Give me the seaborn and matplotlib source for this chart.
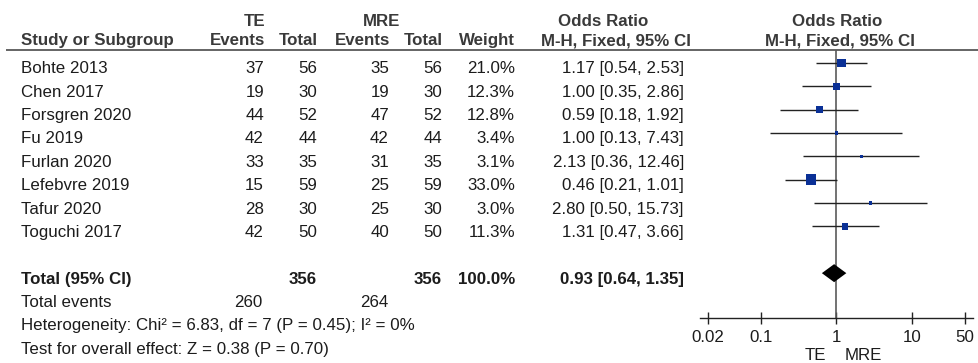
import matplotlib
matplotlib.use("Agg")
import matplotlib.pyplot as plt
from matplotlib.ticker import NullLocator
import numpy as np
import pandas as pd
import seaborn as sns

# ---- study data ----
studies = ["Bohte 2013", "Chen 2017", "Forsgren 2020", "Fu 2019",
           "Furlan 2020", "Lefebvre 2019", "Tafur 2020", "Toguchi 2017"]
te_events = [37, 19, 44, 42, 33, 15, 28, 42]
te_total = [56, 30, 52, 44, 35, 59, 30, 50]
mre_events = [35, 19, 47, 42, 31, 25, 25, 40]
mre_total = [56, 30, 52, 44, 35, 59, 30, 50]
weight = [21.0, 12.3, 12.8, 3.4, 3.1, 33.0, 3.0, 11.3]
odds = [1.17, 1.00, 0.59, 1.00, 2.13, 0.46, 2.80, 1.31]
ci_low = [0.54, 0.35, 0.18, 0.13, 0.36, 0.21, 0.50, 0.47]
ci_high = [2.53, 2.86, 1.92, 7.43, 12.46, 1.01, 15.73, 3.66]

# ---- pooled result ----
pooled_te_total = 356
pooled_mre_total = 356
pooled_weight = 100.0
pooled_or = 0.93
pooled_low = 0.64
pooled_high = 1.35
events_te_sum = 260
events_mre_sum = 264
heterogeneity = "Heterogeneity: Chi² = 6.83, df = 7 (P = 0.45); I² = 0%"
overall = "Test for overall effect: Z = 0.38 (P = 0.70)"

axis_ticks = [0.02, 0.1, 1, 10, 50]
axis_ticklabels = ["0.02", "0.1", "1", "10", "50"]
favours = ["TE", "MRE"]

# ---- style ----
sns.set_theme(style="white")
plt.rcParams["font.family"] = ["Liberation Sans", "DejaVu Sans"]
FS = 12.2
TXT = "#1c1c1c"
HDR = "#3a3a3a"
BLUE = "#0a3096"
LINE = "#222222"

W, H = 979, 363
fig = plt.figure(figsize=(W / 100, H / 100), dpi=100)
bg = fig.add_axes([0, 0, 1, 1])
bg.set_xlim(0, W)
bg.set_ylim(H, 0)
bg.axis("off")

PITCH = 23.35
TEXT0 = 73.4       # baseline of first study row
MARK0 = 63.0       # centre of first study marker


def baseline(i):
    return TEXT0 + PITCH * i


def put(x, y, s, ha="left", bold=False, color=TXT):
    bg.text(x, y, s, ha=ha, va="baseline", fontsize=FS,
            fontweight="bold" if bold else "normal", color=color)


# column right edges
C_TEV, C_TTOT, C_MEV, C_MTOT, C_W, C_OR = 264, 317, 389, 442, 515, 684

# header
put(255, 26, "TE", "center", True, HDR)
put(382, 26, "MRE", "center", True, HDR)
put(603, 26, "Odds Ratio", "center", True, HDR)
put(837.5, 26, "Odds Ratio", "center", True, HDR)
put(21, 45, "Study or Subgroup", "left", True, HDR)
put(C_TEV + 1, 45, "Events", "right", True, HDR)
put(C_TTOT + 1, 45, "Total", "right", True, HDR)
put(C_MEV + 1, 45, "Events", "right", True, HDR)
put(C_MTOT + 1, 45, "Total", "right", True, HDR)
put(C_W, 45, "Weight", "right", True, HDR)
put(615.5, 45, "M-H, Fixed, 95% CI", "center", True, HDR)
put(840, 45, "M-H, Fixed, 95% CI", "center", True, HDR)
bg.plot([6, W], [49.5, 49.5], color="#4a4a4a", lw=1.2, solid_capstyle="butt")

# study rows
for i, name in enumerate(studies):
    y = baseline(i)
    put(21, y, name)
    put(C_TEV, y, f"{te_events[i]}", "right")
    put(C_TTOT, y, f"{te_total[i]}", "right")
    put(C_MEV, y, f"{mre_events[i]}", "right")
    put(C_MTOT, y, f"{mre_total[i]}", "right")
    put(C_W, y, f"{weight[i]:.1f}%", "right")
    put(C_OR, y, f"{odds[i]:.2f} [{ci_low[i]:.2f}, {ci_high[i]:.2f}]", "right")

# pooled rows
n = len(studies)
y = baseline(n + 1)
put(21, y, "Total (95% CI)", bold=True)
put(C_TTOT, y, f"{pooled_te_total}", "right", True)
put(C_MTOT, y, f"{pooled_mre_total}", "right", True)
put(C_W, y, f"{pooled_weight:.1f}%", "right", True)
put(C_OR, y, f"{pooled_or:.2f} [{pooled_low:.2f}, {pooled_high:.2f}]", "right", True)
y = baseline(n + 2)
put(21, y, "Total events")
put(C_TEV - 2, y, f"{events_te_sum}", "right")
put(C_MEV - 1, y, f"{events_mre_sum}", "right")
put(21, baseline(n + 3), heterogeneity)
put(21, baseline(n + 4), overall)

# ---- forest panel ----
AX_L, AX_R, AX_T, AX_B = 700, 973, 49.5, 318
fa = fig.add_axes([AX_L / W, 1 - AX_B / H, (AX_R - AX_L) / W, (AX_B - AX_T) / H])
fa.patch.set_alpha(0)

df = pd.DataFrame({"odds": odds, "low": ci_low, "high": ci_high,
                   "weight": weight, "row": np.arange(n)})

fa.hlines(df["row"], df["low"], df["high"], color=LINE, lw=1.0, zorder=2)
sns.scatterplot(data=df, x="odds", y="row", size="weight",
                sizes=(0, 1.79 * 33), size_norm=(0, 33), marker="s",
                color=BLUE, linewidth=0, legend=False, ax=fa, zorder=3)

# pooled diamond
prow = n + 1
half_h = 9 / PITCH
fa.fill([pooled_low, pooled_or, pooled_high, pooled_or],
        [prow, prow - half_h, prow, prow + half_h], color="black", lw=0, zorder=3)

fa.axvline(1, color="#5a5a5a", lw=1.2, zorder=1)

fa.set_xscale("log")
fa.set_xlim(10 ** -1.808, 10 ** 1.808)
fa.set_ylim((AX_B - MARK0) / PITCH, (AX_T - MARK0) / PITCH)
fa.set_xticks(axis_ticks)
fa.set_xticklabels(axis_ticklabels)
fa.xaxis.set_minor_locator(NullLocator())
fa.set_yticks([])
fa.set_xlabel("")
fa.set_ylabel("")
for side in ("top", "left", "right"):
    fa.spines[side].set_visible(False)
fa.spines["bottom"].set_color(LINE)
fa.spines["bottom"].set_linewidth(1.0)
fa.tick_params(axis="x", direction="inout", length=8, width=1.0, color=LINE,
               pad=5.0, labelsize=FS, labelcolor=TXT, bottom=True)

put(815, 360.5, favours[0], "center")
put(863, 360.5, favours[1], "center")

fig.savefig("out.png", dpi=100)
